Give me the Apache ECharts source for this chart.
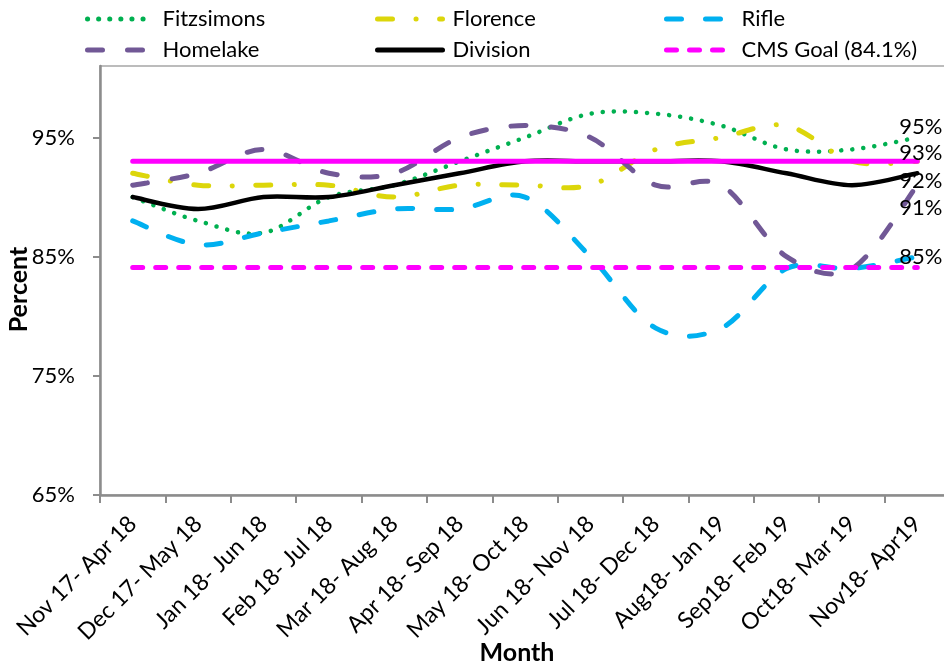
<!DOCTYPE html>
<html>
<head>
<meta charset="utf-8">
<title>Percent by rolling period</title>
<script src="https://cdn.jsdelivr.net/npm/echarts@6/dist/echarts.min.js"></script>
<style>
  html, body { margin: 0; padding: 0; background: #fff; }
  #chart { width: 944px; height: 666px; }
</style>
</head>
<body>
<div id="chart"></div>
<script>
// Rolling six-month periods
const months = [
  'Nov 17- Apr 18', 'Dec 17- May 18', 'Jan 18- Jun 18', 'Feb 18- Jul 18',
  'Mar 18- Aug 18', 'Apr 18- Sep 18', 'May 18- Oct 18', 'Jun 18- Nov 18',
  'Jul 18- Dec 18', 'Aug18- Jan 19', 'Sep18- Feb 19', 'Oct18- Mar 19', 'Nov18- Apr19'
];

// Percent values per site
const fitzsimons = [90, 88, 87, 90, 91, 93, 95, 97, 97, 96, 94, 94, 95];
const florence   = [92, 91, 91, 91, 90, 91, 91, 91, 94, 95, 96, 93, 93];
const rifle      = [88, 86, 87, 88, 89, 89, 90, 85, 79, 79, 84, 84, 85];
const homelake   = [91, 92, 94, 92, 92, 95, 96, 95, 91, 91, 85, 84, 91];
const division   = [90, 89, 90, 90, 91, 92, 93, 93, 93, 93, 92, 91, 92];

// Reference levels
const cmsGoal = 84.1;
const targetLevel = 93;

// Y axis ticks
const yTicks = [65, 75, 85, 95];

const FONT = 'Lato, "Open Sans", "Liberation Sans", sans-serif';

const flat = v => months.map(() => v);

// Site styles: colour, width, dash pattern, end label vertical shift
const styles = {
  'Fitzsimons': { color: '#00B050', width: 4.5, dash: [0.1, 11], dy: -11, values: fitzsimons },
  'Florence':   { color: '#DCD60A', width: 5, dash: [15, 23.5, 0.1, 23.5], dy: -8, values: florence },
  'Rifle':      { color: '#00B0F0', width: 5, dash: [15, 24], dy: 0, values: rifle },
  'Homelake':   { color: '#715896', width: 5, dash: [15, 25], dy: 23, values: homelake },
  'Division':   { color: '#000000', width: 4.5, dash: null, dy: 8, values: division }
};
const siteNames = ['Fitzsimons', 'Florence', 'Rifle', 'Homelake', 'Division'];

// Smooth curve through the points (Catmull-Rom style, like a spreadsheet's smoothed line)
function smoothPath(pts) {
  let d = 'M' + pts[0][0] + ' ' + pts[0][1];
  for (let i = 0; i < pts.length - 1; i++) {
    const p0 = pts[Math.max(i - 1, 0)];
    const p1 = pts[i];
    const p2 = pts[i + 1];
    const p3 = pts[Math.min(i + 2, pts.length - 1)];
    const c1x = p1[0] + (p2[0] - p0[0]) / 6;
    const c1y = p1[1] + (p2[1] - p0[1]) / 6;
    const c2x = p2[0] - (p3[0] - p1[0]) / 6;
    const c2y = p2[1] - (p3[1] - p1[1]) / 6;
    d += ' C' + c1x + ' ' + c1y + ' ' + c2x + ' ' + c2y + ' ' + p2[0] + ' ' + p2[1];
  }
  return d;
}

// Legend entry + end-of-line value label for a site (the line itself stays transparent)
function legendSeries(name) {
  const s = styles[name];
  return {
    name: name,
    type: 'line',
    data: s.values,
    symbol: 'none',
    showSymbol: false,
    silent: true,
    z: 5,
    lineStyle: { color: s.color, width: s.width, type: s.dash || 'solid', cap: 'round', opacity: 0 },
    itemStyle: { color: s.color },
    endLabel: {
      show: true,
      formatter: p => Math.round(p.value) + '%',
      color: '#000',
      fontFamily: FONT,
      fontSize: 22,
      distance: 5,
      offset: [-23, s.dy]
    }
  };
}

// The smoothed site curve drawn through the axis scales
function curveSeries(name) {
  const s = styles[name];
  return {
    name: name,
    type: 'custom',
    data: s.values.map((v, i) => [i, v]),
    encode: { x: 0, y: 1 },
    silent: true,
    z: 3,
    renderItem: function (params, api) {
      if (params.dataIndex !== 0) return null;
      const pts = s.values.map((v, i) => api.coord([i, v]));
      return {
        type: 'path',
        shape: { pathData: smoothPath(pts) },
        style: {
          fill: null,
          stroke: s.color,
          lineWidth: s.width,
          lineDash: s.dash,
          lineCap: 'round',
          lineJoin: 'round'
        }
      };
    }
  };
}

const chart = echarts.init(document.getElementById('chart'), null, { renderer: 'canvas' });

const legendBase = {
  orient: 'vertical',
  top: 3,
  itemWidth: 65,
  itemHeight: 14,
  itemGap: 9,
  itemStyle: { opacity: 0 },
  lineStyle: { width: 5, opacity: 1 },
  textStyle: { fontFamily: FONT, fontSize: 22, color: '#000', padding: [0, 0, 0, 5] }
};

const series = siteNames.map(legendSeries)
  .concat(siteNames.map(curveSeries))
  .concat([
    {
      name: 'CMS Goal (84.1%)', type: 'line', data: flat(cmsGoal),
      symbol: 'none', showSymbol: false, silent: true, z: 4,
      lineStyle: { color: '#FF00FF', width: 5, type: [10, 13], cap: 'round' },
      itemStyle: { color: '#FF00FF' }
    },
    {
      name: 'Target', type: 'line', data: flat(targetLevel),
      symbol: 'none', showSymbol: false, silent: true, z: 4,
      lineStyle: { color: '#FF00FF', width: 5, type: 'solid', cap: 'round' },
      itemStyle: { color: '#FF00FF' }
    }
  ]);

chart.setOption({
  backgroundColor: '#fff',
  animation: false,
  textStyle: { fontFamily: FONT },
  legend: [
    Object.assign({}, legendBase, { left: 80, data: ['Fitzsimons', 'Homelake'] }),
    Object.assign({}, legendBase, { left: 370, data: ['Florence', 'Division'] }),
    Object.assign({}, legendBase, { left: 659, data: ['Rifle', 'CMS Goal (84.1%)'] })
  ],
  grid: {
    left: 100, right: -6, top: 66, bottom: 171,
    outerBoundsMode: 'none',
    containLabel: false,
    show: true, borderColor: '#a6a6a6', borderWidth: 1.5, backgroundColor: 'transparent'
  },
  xAxis: {
    type: 'category',
    data: months,
    boundaryGap: true,
    name: 'Month',
    nameLocation: 'middle',
    nameMoveOverlap: false,
    nameGap: 145,
    nameTextStyle: { fontFamily: FONT, fontSize: 25, fontWeight: 'bold', color: '#000', padding: [0, 16, 0, 0] },
    axisLine: { lineStyle: { color: '#8c8c8c', width: 2.5 } },
    axisTick: { show: true, alignWithLabel: false, length: 8, lineStyle: { color: '#8c8c8c', width: 2 } },
    axisLabel: { interval: 0, rotate: 45, margin: 25, fontFamily: FONT, fontSize: 23, color: '#000' },
    splitLine: { show: false }
  },
  yAxis: {
    type: 'value',
    min: 65,
    max: 101,
    interval: 10,
    name: 'Percent',
    nameLocation: 'middle',
    nameMoveOverlap: false,
    nameRotate: 90,
    nameGap: 69,
    nameTextStyle: { fontFamily: FONT, fontSize: 25, fontWeight: 'bold', color: '#000', padding: [0, 18, 0, 0] },
    axisLine: { show: true, lineStyle: { color: '#8c8c8c', width: 2.5 } },
    axisTick: { show: true, length: 7, customValues: yTicks, lineStyle: { color: '#8c8c8c', width: 2 } },
    axisLabel: { customValues: yTicks, formatter: '{value}%', margin: 25, fontFamily: FONT, fontSize: 22, color: '#000' },
    splitLine: { show: false }
  },
  series: series
});
</script>
</body>
</html>
